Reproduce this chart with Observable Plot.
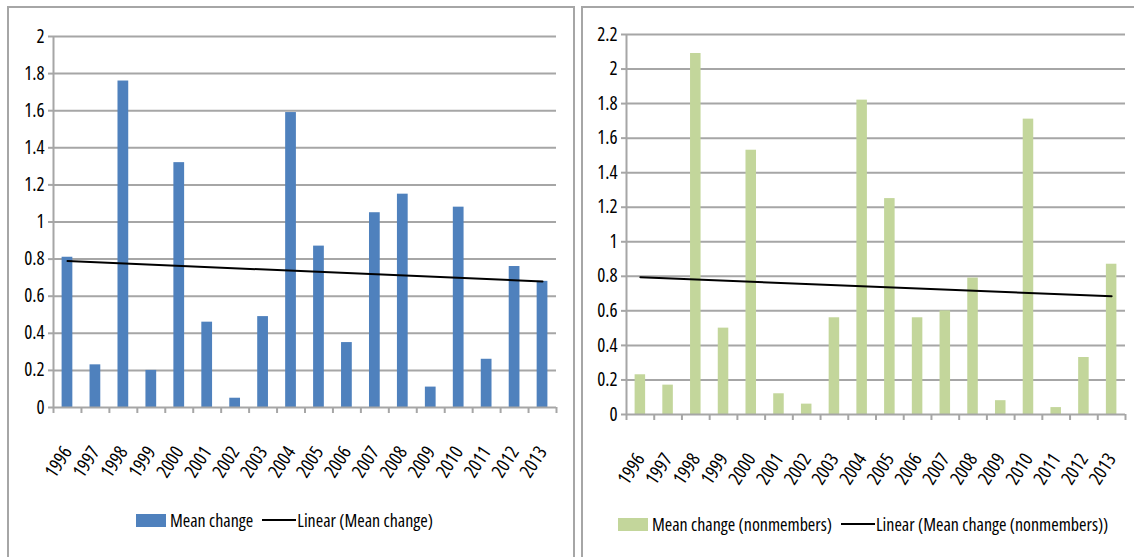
<!DOCTYPE html>
<html><head><meta charset="utf-8">
<script src="https://cdn.jsdelivr.net/npm/d3@7"></script>
<script src="https://cdn.jsdelivr.net/npm/@observablehq/plot@0.6"></script>
<style>
body{margin:0;background:#fff;}
#wrap{position:relative;width:1134px;height:557px;overflow:hidden;font-family:"Open Sans",sans-serif;font-stretch:condensed;}
.panel{position:absolute;border:2px solid #a6a6a6;border-bottom:none;box-sizing:border-box;}
.chart{position:absolute;top:0;}
.chart svg{font-stretch:condensed;}
.legend{position:absolute;display:flex;align-items:center;font-size:18px;color:#000;white-space:nowrap;}
.sw{display:inline-block;width:30px;height:13px;margin-right:4px}
.ln{display:inline-block;width:34px;height:0;border-top:2px solid #000;margin:0 1px 0 9px}
</style></head>
<body>
<div id="wrap">
  <div class="panel" style="left:7px;top:6px;width:568px;height:560px"></div>
  <div class="panel" style="left:581px;top:6px;width:560px;height:560px"></div>
  <div class="chart" id="left" style="left:0px"></div>
  <div class="chart" id="right" style="left:580px"></div>
  <div class="legend" style="left:136px;top:508px"><span class="sw" style="background:#4F81BD"></span>Mean change<span class="ln"></span>Linear (Mean change)</div>
  <div class="legend" style="left:618px;top:512px"><span class="sw" style="background:#C3D69B"></span>Mean change (nonmembers)<span class="ln"></span>Linear (Mean change (nonmembers))</div>
</div>
<script>
const years = [1996,1997,1998,1999,2000,2001,2002,2003,2004,2005,2006,2007,2008,2009,2010,2011,2012,2013];
const meanChange = [0.81,0.23,1.76,0.20,1.32,0.46,0.05,0.49,1.59,0.87,0.35,1.05,1.15,0.11,1.08,0.26,0.76,0.68];
const meanChangeNonmembers = [0.23,0.17,2.09,0.50,1.53,0.12,0.06,0.56,1.82,1.25,0.56,0.60,0.79,0.08,1.71,0.04,0.33,0.87];
const yTicksLeft = [0,0.2,0.4,0.6,0.8,1,1.2,1.4,1.6,1.8,2];
const yTicksRight = [0,0.2,0.4,0.6,0.8,1,1.2,1.4,1.6,1.8,2,2.2];

const grid = "#a6a6a6";
function makeChart(values, color, yTicks, dims) {
  const data = years.map((year, i) => ({year, value: values[i]}));
  const x0 = d3.min(years) - 0.5, x1 = d3.max(years) + 0.5;
  const bounds = d3.range(x0, x1 + 0.01, 1);
  const fmt = d => String(+d.toFixed(1));
  return Plot.plot({
    width: dims.width, height: dims.height,
    marginLeft: dims.ml, marginRight: dims.mr, marginTop: dims.mt, marginBottom: dims.mb,
    style: {fontFamily: '"Open Sans",sans-serif', color: "#000", background: "transparent", overflow: "visible"},
    x: {type: "linear", domain: [x0, x1]},
    y: {domain: [0, d3.max(yTicks)]},
    marks: [
      Plot.ruleY(yTicks.filter(t => t > 0), {stroke: grid, strokeWidth: 2}),
      Plot.axisY(yTicks, {tickSize: 5, tickPadding: 4, stroke: grid, strokeWidth: 2, fontSize: 19, tickFormat: fmt, label: null}),
      Plot.axisX(bounds, {tickSize: 6, tickFormat: () => "", stroke: grid, strokeWidth: 2, label: null}),
      Plot.axisX(years, {tickSize: 0, tickPadding: 26, dy: 15, tickRotate: -57, fontSize: 19, tickFormat: d => String(d), label: null}),
      Plot.rectY(data, {x1: d => d.year - 0.5, x2: d => d.year + 0.5, y: "value", fill: color, insetLeft: dims.inset, insetRight: dims.inset}),
      Plot.ruleY([0], {stroke: grid, strokeWidth: 2}),
      Plot.ruleX([x0], {stroke: grid, strokeWidth: 2}),
      Plot.linearRegressionY(data, {x: "year", y: "value", stroke: "#000", strokeWidth: 2, ci: 0})
    ]
  });
}
document.getElementById("left").append(makeChart(meanChange, "#4F81BD", yTicksLeft,
  {width: 575, height: 490, ml: 53, mr: 19, mt: 36, mb: 83, inset: 8.6}));
document.getElementById("right").append(makeChart(meanChangeNonmembers, "#C3D69B", yTicksRight,
  {width: 554, height: 490, ml: 46, mr: 9, mt: 34, mb: 76, inset: 8.6}));
</script>
</body></html>
